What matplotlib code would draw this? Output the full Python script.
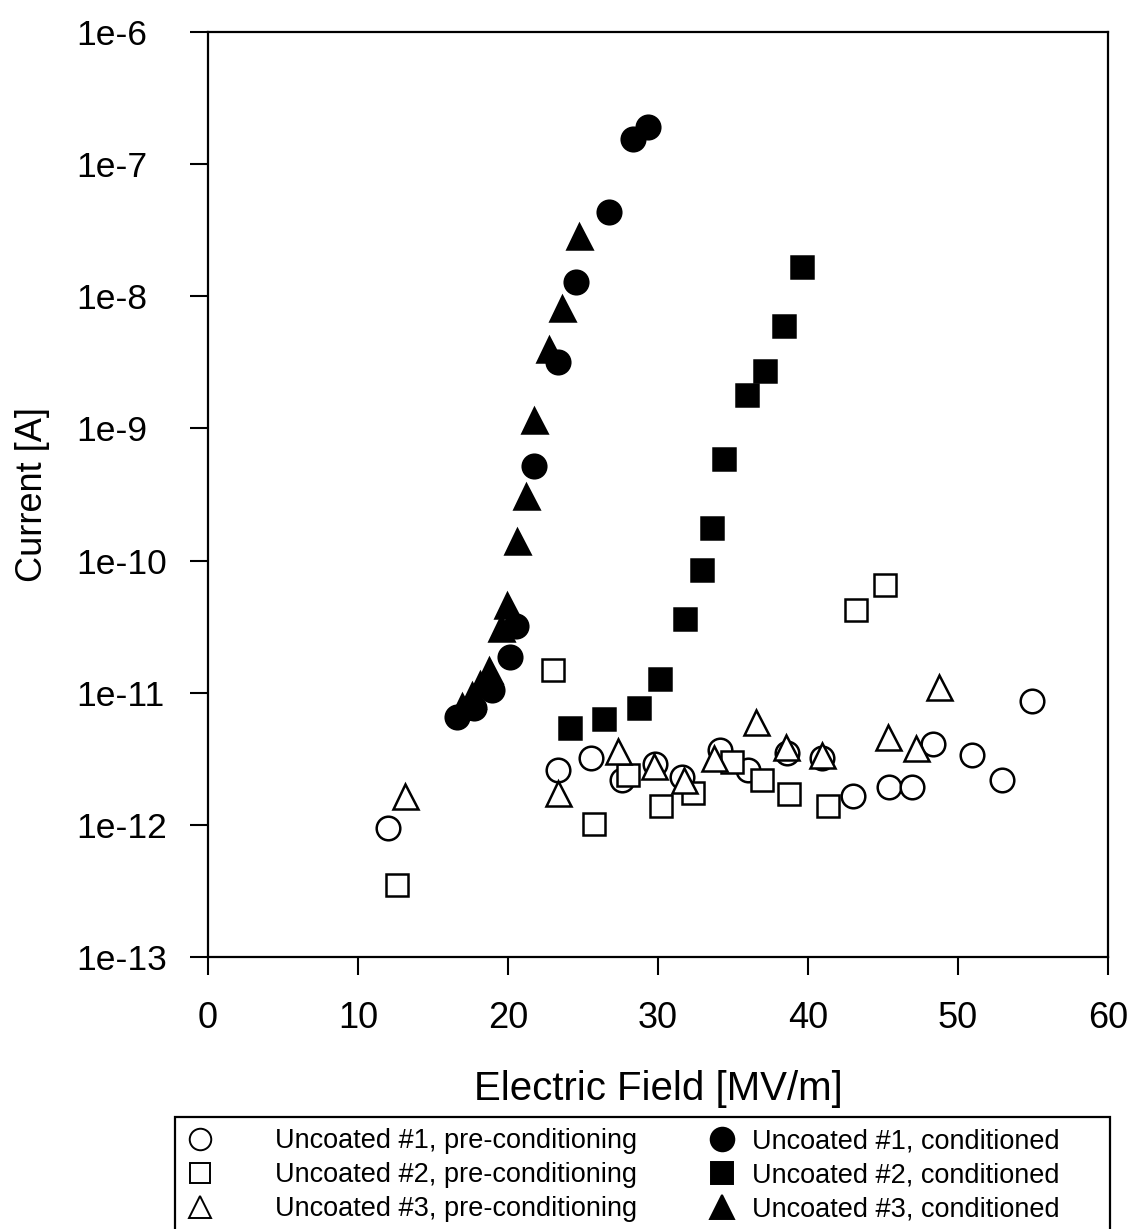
import matplotlib
matplotlib.use("Agg")
import matplotlib.pyplot as plt
from matplotlib.lines import Line2D
from matplotlib.patches import Rectangle
from matplotlib.ticker import FixedLocator, FuncFormatter, NullLocator
import numpy as np

plt.rcParams['font.family'] = ['Liberation Sans', 'DejaVu Sans']

# Uncoated #1, pre-conditioning (open circles)
pre1_x = [12.0, 23.3, 25.5, 27.6, 29.8, 31.6, 34.1, 36.0, 38.6, 40.9, 43.0, 45.4, 46.9, 48.3, 50.9, 52.9, 54.9]
pre1_y = [9.4e-13, 2.6e-12, 3.2e-12, 2.2e-12, 2.9e-12, 2.3e-12, 3.7e-12, 2.6e-12, 3.5e-12, 3.2e-12,
          1.65e-12, 1.94e-12, 1.94e-12, 4.1e-12, 3.4e-12, 2.2e-12, 8.7e-12]

# Uncoated #2, pre-conditioning (open squares)
pre2_x = [12.6, 23.0, 25.7, 28.0, 30.2, 32.3, 34.9, 36.9, 38.7, 41.3, 43.2, 45.1]
pre2_y = [3.5e-13, 1.48e-11, 1.02e-12, 2.4e-12, 1.4e-12, 1.74e-12, 3.0e-12, 2.2e-12, 1.7e-12, 1.38e-12,
          4.2e-11, 6.5e-11]

# Uncoated #3, pre-conditioning (open triangles)
pre3_x = [13.1, 23.3, 27.3, 29.7, 31.7, 33.7, 36.5, 38.5, 40.9, 45.3, 47.2, 48.7]
pre3_y = [1.66e-12, 1.74e-12, 3.6e-12, 2.8e-12, 2.2e-12, 3.2e-12, 6.0e-12, 3.9e-12, 3.4e-12, 4.6e-12,
          3.8e-12, 1.1e-11]

# Uncoated #1, conditioned (filled circles)
con1_x = [16.6, 17.7, 18.9, 20.1, 20.5, 21.7, 23.3, 24.5, 26.7, 28.3, 29.3]
con1_y = [6.6e-12, 7.6e-12, 1.05e-11, 1.86e-11, 3.2e-11, 5.2e-10, 3.2e-9, 1.29e-8, 4.35e-8, 1.55e-7, 1.9e-7]

# Uncoated #2, conditioned (filled squares)
con2_x = [24.1, 26.4, 28.7, 30.1, 31.8, 32.9, 33.6, 34.4, 35.9, 37.1, 38.4, 39.6]
con2_y = [5.4e-12, 6.3e-12, 7.6e-12, 1.26e-11, 3.6e-11, 8.5e-11, 1.76e-10, 5.9e-10, 1.79e-9, 2.7e-9,
          6.0e-9, 1.66e-8]

# Uncoated #3, conditioned (filled triangles)
con3_x = [16.9, 17.6, 18.1, 18.7, 19.5, 19.9, 20.6, 21.2, 21.7, 22.7, 23.6, 24.7]
con3_y = [7.9e-12, 9.6e-12, 1.17e-11, 1.48e-11, 3.1e-11, 4.6e-11, 1.4e-10, 3.1e-10, 1.15e-9, 4.0e-9,
          8.1e-9, 2.86e-8]

labels = ["Uncoated #1, pre-conditioning", "Uncoated #2, pre-conditioning", "Uncoated #3, pre-conditioning",
          "Uncoated #1, conditioned", "Uncoated #2, conditioned", "Uncoated #3, conditioned"]

x_ticks = [0, 10, 20, 30, 40, 50, 60]
y_ticks = [1e-13, 1e-12, 1e-11, 1e-10, 1e-9, 1e-8, 1e-7, 1e-6]
y_tick_labels = ["1e-13", "1e-12", "1e-11", "1e-10", "1e-9", "1e-8", "1e-7", "1e-6"]

W, H = 1134, 1229
fig = plt.figure(figsize=(W / 100, H / 100), dpi=100)
ax = fig.add_axes([208 / W, 1 - 957 / H, 900 / W, 925 / H])

ew = 1.8
series = [
    (pre1_x, pre1_y, 'o', 'white', 17),
    (pre2_x, pre2_y, 's', 'white', 16),
    (pre3_x, pre3_y, '^', 'white', 18),
    (con1_x, con1_y, 'o', 'black', 17),
    (con2_x, con2_y, 's', 'black', 16),
    (con3_x, con3_y, '^', 'black', 18),
]
for (xs, ys, m, fc, size) in series:
    ax.plot(xs, ys, linestyle='none', marker=m, markersize=size, markerfacecolor=fc,
            markeredgecolor='black', markeredgewidth=ew, clip_on=False)

ax.set_yscale('log')
ax.set_xlim(0, 60)
ax.set_ylim(1e-13, 1e-6)
ax.xaxis.set_major_locator(FixedLocator(x_ticks))
ax.yaxis.set_major_locator(FixedLocator(y_ticks))
ax.yaxis.set_major_formatter(FuncFormatter(lambda v, p: y_tick_labels[int(round(np.log10(v))) + 13]))
ax.yaxis.set_minor_locator(NullLocator())
ax.tick_params(axis='both', direction='out', length=13, width=1.5)
ax.tick_params(axis='x', labelsize=26, pad=19)
ax.tick_params(axis='y', labelsize=25.5, pad=82)
for lab in ax.get_yticklabels():
    lab.set_horizontalalignment('left')
for sp in ax.spines.values():
    sp.set_linewidth(1.6)

ax.set_xlabel("Electric Field [MV/m]", fontsize=29)
ax.xaxis.set_label_coords(0.5, -(1108 - 957) / 925)
ax.xaxis.label.set_verticalalignment('bottom')
ax.set_ylabel("Current [A]", fontsize=26)
ax.yaxis.set_label_coords(-(208 - 50) / 900, 0.5)

# legend: two columns with their own spacing, plus a frame
fs = 19.5
fs_px = fs * 100 / 72
col_specs = [
    (range(0, 3), 200, 275),
    (range(3, 6), 722, 752),
]
row1_center = 1143
for idx, mx, tx in col_specs:
    hl = 1.0
    x0 = mx - hl * fs_px / 2
    pad = (tx - (x0 + hl * fs_px)) / fs_px
    hs = []
    for i in idx:
        xs, ys, m, fc, size = series[i]
        msz = 15.5 if fc == 'white' else 17
        if m == 's':
            msz -= 1
        hs.append(Line2D([], [], linestyle='none', marker=m, markersize=msz,
                         markerfacecolor=fc, markeredgecolor='black', markeredgewidth=1.4))
    top = row1_center - 15
    fig.legend(hs, [labels[i] for i in idx], loc='upper left',
               bbox_to_anchor=(x0 / W, 1 - top / H), fontsize=fs, frameon=False,
               handlelength=hl, handletextpad=pad, labelspacing=0.30,
               borderpad=0, borderaxespad=0)

fig.add_artist(Rectangle((175 / W, 1 - 1240 / H), (1110 - 175) / W, (1240 - 1117) / H,
                         transform=fig.transFigure, fill=False, edgecolor='black', linewidth=1.6))

fig.savefig("out.png", dpi=100)
